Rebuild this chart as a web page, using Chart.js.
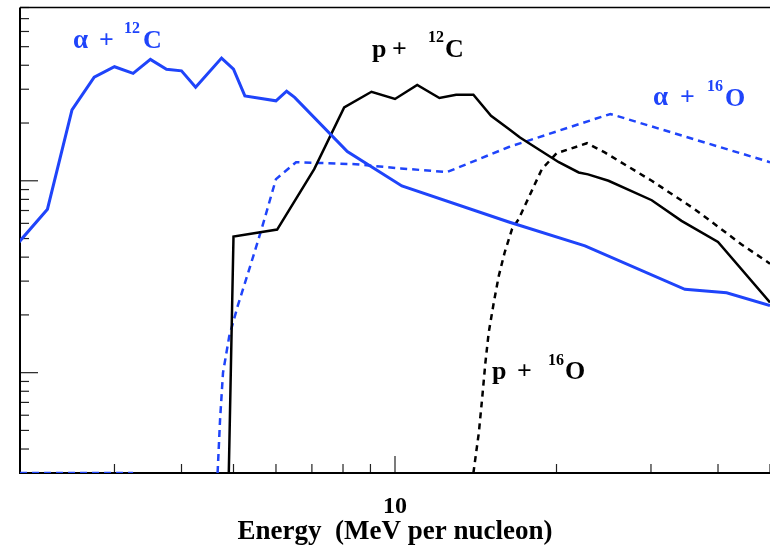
<!DOCTYPE html>
<html>
<head>
<meta charset="utf-8">
<script src="https://cdn.jsdelivr.net/npm/chart.js@4.4.1/dist/chart.umd.min.js"></script>
<style>
  html, body { margin: 0; padding: 0; background: #fff; overflow: hidden; }
  #wrap { width: 770px; height: 555px; }
</style>
</head>
<body>
<div id="wrap"><canvas id="myChart" width="770" height="555"></canvas></div>
<script>
// energies (MeV per nucleon) and cross sections (arbitrary units, log)
const alphaC_E = [1.75, 2.0, 2.25, 2.5, 2.75, 3.0, 3.25, 3.5, 3.75, 4.0, 4.25, 4.75, 5.0, 5.25, 6.0, 6.28, 6.5, 8.15, 10.3, 16.3, 22.6, 34.7, 41.5, 50];
const alphaC_S = [3.2, 4.86, 7.11, 23.4, 34.7, 39.3, 36.3, 42.9, 38.1, 37.4, 30.7, 43.6, 38.2, 27.7, 26.1, 29.3, 27.2, 14.2, 9.4, 6.1, 4.58, 2.72, 2.61, 2.24];

const pC_E = [4.9, 5.0, 6.03, 7.07, 8.04, 9.04, 10.0, 11.0, 12.1, 13.0, 14.0, 15.1, 16.3, 17.1, 20.2, 22.0, 22.9, 25.0, 30.1, 34.2, 40.0, 50];
const pC_S = [0.3, 5.12, 5.57, 11.5, 24.1, 29.1, 26.7, 31.6, 27.0, 28.1, 28.1, 21.8, 18.6, 16.8, 12.5, 11.05, 10.8, 10.0, 7.92, 6.18, 4.80, 2.32];

const alphaO_E = [1.9, 3.25, 3.4, 4.67, 4.72, 4.78, 4.91, 5.09, 5.35, 5.59, 5.71, 6.0, 6.54, 8.45, 10.25, 12.5, 16.3, 25.2, 50];
const alphaO_S = [0.3, 0.3, null, 0.3, 0.57, 1.0, 1.55, 2.22, 3.46, 5.16, 6.31, 10.2, 12.5, 12.2, 11.6, 11.1, 15.0, 22.3, 12.5];

const pO_E = [14.0, 14.33, 14.53, 14.74, 14.95, 15.28, 15.61, 16.01, 16.52, 17.0, 18.78, 20.0, 22.8, 24.6, 30.1, 36.2, 44.2, 50];
const pO_S = [0.3, 0.486, 0.726, 1.128, 1.617, 2.32, 3.19, 4.23, 5.59, 6.31, 11.5, 13.9, 15.7, 14.05, 10.0, 7.11, 4.67, 3.7];

const xTicks = [2, 3, 4, 5, 6, 7, 8, 9, 10, 20, 30, 40, 50];
const xMajor = [10];
const xLabels = [10];
const yTicks = [0.4, 0.5, 0.6, 0.7, 0.8, 0.9, 1, 2, 3, 4, 5, 6, 7, 8, 9, 10, 20, 30, 40, 50, 60, 70, 80];
const yMajor = [1, 10];

const BLUE = '#1f44fa';
const SERIF = '"Liberation Serif", "Times New Roman", serif';

function pts(xs, ys) {
    let out = [];
    for (let i = 0; i < xs.length; i++) out.push({x: xs[i], y: ys[i]});
    return out;
}

// frame + inward ticks, under the curves
const frameTicks = {
    id: 'frameTicks',
    beforeDatasetsDraw(chart) {
        const ctx = chart.ctx, a = chart.chartArea;
        const xs = chart.scales.x, ys = chart.scales.y;
        ctx.save();
        ctx.strokeStyle = '#222';
        ctx.lineWidth = 1.2;
        xs.ticks.forEach(t => {
            const px = xs.getPixelForValue(t.value);
            const len = xMajor.includes(t.value) ? 17 : 9;
            ctx.beginPath(); ctx.moveTo(px, a.bottom); ctx.lineTo(px, a.bottom - len); ctx.stroke();
        });
        ys.ticks.forEach(t => {
            const py = ys.getPixelForValue(t.value);
            const len = yMajor.includes(t.value) ? 18 : 9;
            ctx.beginPath(); ctx.moveTo(a.left, py); ctx.lineTo(a.left + len, py); ctx.stroke();
        });
        ctx.strokeStyle = '#000';
        ctx.lineWidth = 1.5;
        ctx.beginPath(); ctx.moveTo(a.left, a.top); ctx.lineTo(a.right + 2, a.top); ctx.stroke();
        ctx.lineWidth = 2;
        ctx.beginPath(); ctx.moveTo(a.left, a.top); ctx.lineTo(a.left, a.bottom); ctx.stroke();
        ctx.beginPath(); ctx.moveTo(a.left - 1, a.bottom); ctx.lineTo(a.right + 2, a.bottom); ctx.stroke();
        ctx.restore();
    }
};

// reaction labels: [text, x, baseline, size]
const labels = [
    {color: BLUE, parts: [['α', 73, 48, 27], ['+', 99, 48, 26], ['12', 124, 33, 16], ['C', 143, 48, 26]]},
    {color: '#000', parts: [['p', 372, 57, 26], ['+', 392, 57, 26], ['12', 428, 42, 16], ['C', 445, 57, 26]]},
    {color: BLUE, parts: [['α', 653, 105, 27], ['+', 680, 105, 26], ['16', 707, 91, 16], ['O', 725, 106, 26]]},
    {color: '#000', parts: [['p', 492, 379, 26], ['+', 517, 379, 26], ['16', 548, 365, 16], ['O', 565, 379, 26]]}
];
const reactionLabels = {
    id: 'reactionLabels',
    afterDatasetsDraw(chart) {
        const ctx = chart.ctx;
        ctx.save();
        ctx.textBaseline = 'alphabetic';
        labels.forEach(l => {
            ctx.fillStyle = l.color;
            l.parts.forEach(p => {
                ctx.font = 'bold ' + p[3] + 'px ' + SERIF;
                ctx.fillText(p[0], p[1], p[2]);
            });
        });
        ctx.restore();
    }
};

let ctx = document.getElementById('myChart').getContext('2d');
let chart = new Chart(ctx, {
    type: 'scatter',
    data: {
        datasets: [
        { // alpha + 12C
            data: pts(alphaC_E, alphaC_S),
            borderColor: BLUE, borderWidth: 3, showLine: true, pointRadius: 0
        },
        { // p + 12C
            data: pts(pC_E, pC_S),
            borderColor: '#000', borderWidth: 2.5, showLine: true, pointRadius: 0
        },
        { // alpha + 16O
            data: pts(alphaO_E, alphaO_S),
            borderColor: BLUE, borderWidth: 2.5, borderDash: [7, 5], showLine: true, pointRadius: 0
        },
        { // p + 16O
            data: pts(pO_E, pO_S),
            borderColor: '#000', borderWidth: 2.5, borderDash: [6, 5], showLine: true, pointRadius: 0
        }]
    },
    options: {
        responsive: false,
        animation: false,
        layout: { autoPadding: false, padding: { left: 20, top: 7.5, right: 0, bottom: 0 } },
        plugins: { legend: { display: false }, tooltip: { enabled: false } },
        scales: {
            x: {
                type: 'logarithmic', min: 2, max: 50,
                grid: { display: false, drawTicks: false },
                border: { display: false },
                afterBuildTicks: s => { s.ticks = xTicks.map(v => ({value: v})); },
                afterFit: s => { s.height = 82; s.paddingLeft = 0; s.paddingRight = 0; },
                ticks: {
                    autoSkip: false, maxRotation: 0, padding: 19, color: '#000',
                    font: { family: SERIF, size: 24, weight: 'bold' },
                    callback: v => xLabels.includes(v) ? String(v) : ''
                },
                title: {
                    display: true, text: 'Energy  (MeV per nucleon)', color: '#000',
                    font: { family: SERIF, size: 27, weight: 'bold' },
                    padding: { top: 0, bottom: 7 }
                }
            },
            y: {
                type: 'logarithmic', min: 0.3, max: 80,
                grid: { display: false, drawTicks: false },
                border: { display: false },
                afterBuildTicks: s => { s.ticks = yTicks.map(v => ({value: v})); },
                afterFit: s => { s.width = 0; s.paddingTop = 0; s.paddingBottom = 0; },
                ticks: { display: false }
            }
        }
    },
    plugins: [frameTicks, reactionLabels]
});
</script>
</body>
</html>
